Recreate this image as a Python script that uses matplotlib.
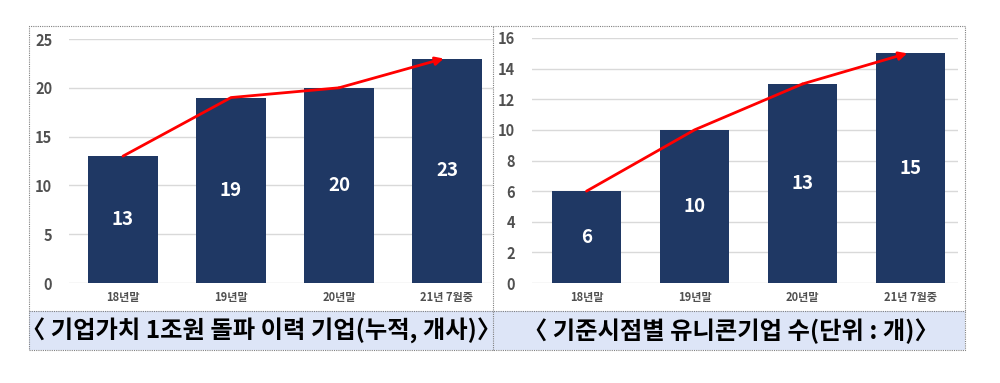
import matplotlib.pyplot as plt
from matplotlib.patches import Rectangle
from matplotlib.lines import Line2D

plt.rcParams['font.family'] = ['Noto Sans CJK KR', 'DejaVu Sans']

# data
categories = ['18년말', '19년말', '20년말', '21년 7월중']
unicorn_1t = [13, 19, 20, 23]      # 기업가치 1조원 돌파 이력 기업
unicorn_now = [6, 10, 13, 15]      # 기준시점별 유니콘기업 수
left_caption = '〈 기업가치 1조원 돌파 이력 기업(누적, 개사)〉'
right_caption = '〈 기준시점별 유니콘기업 수(단위 : 개)〉'
left_yticks = [0, 5, 10, 15, 20, 25]
right_yticks = [0, 2, 4, 6, 8, 10, 12, 14, 16]

W, H = 1000, 383
fig = plt.figure(figsize=(W / 100, H / 100), dpi=100)

bar_color = '#1f3864'
grid_color = '#d9d9d9'
tick_color = '#505050'


def px_axes(x0, x1, ytop, ybot):
    return fig.add_axes([x0 / W, (H - ybot) / H, (x1 - x0) / W, (ybot - ytop) / H])


def draw_panel(ax, values, yticks, xlim):
    x = range(len(values))
    ax.bar(x, values, width=0.64, color=bar_color, zorder=2)
    for xi, v in zip(x, values):
        ax.text(xi, v / 2, str(v), ha='center', va='center', color='white',
                fontsize=13.5, fontweight='heavy', zorder=4)
    ax.set_xlim(*xlim)
    ax.set_ylim(yticks[0], yticks[-1])
    ax.set_yticks(yticks)
    ax.set_xticks(list(x))
    ax.set_xticklabels(categories)
    ax.grid(axis='y', color=grid_color, linewidth=1, zorder=0)
    for s in ax.spines.values():
        s.set_visible(False)
    ax.tick_params(axis='y', length=0, pad=12, labelsize=10.5, labelcolor=tick_color)
    ax.tick_params(axis='x', length=0, pad=6, labelsize=8, labelcolor=tick_color)
    for lbl in ax.get_yticklabels() + ax.get_xticklabels():
        lbl.set_fontweight('heavy')
    # red trend arrow
    xs = list(x)
    ax.plot(xs[:-1], values[:-1], color='#ff0000', linewidth=2, zorder=3,
            solid_capstyle='round')
    ax.annotate('', xy=(xs[-1] - 0.03, values[-1]), xytext=(xs[-2], values[-2]),
                arrowprops=dict(arrowstyle='-|>', color='#ff0000', lw=2,
                                mutation_scale=12, shrinkA=0, shrinkB=0),
                zorder=3)


ax1 = px_axes(69, 493, 39, 283)
draw_panel(ax1, unicorn_1t, left_yticks, (-0.5, 3.426))

ax2 = px_axes(532, 958, 38, 283)
draw_panel(ax2, unicorn_now, right_yticks, (-0.505, 3.44))

# caption band and dotted frame
fig.patches.append(Rectangle((29 / W, (H - 350) / H), (965 - 29) / W, (350 - 311) / H,
                             transform=fig.transFigure, facecolor='#dde5f7',
                             edgecolor='none', zorder=0))
fig.patches.append(Rectangle((29 / W, (H - 350) / H), (965 - 29) / W, (350 - 26) / H,
                             transform=fig.transFigure, facecolor='none',
                             edgecolor='#808080', linestyle=(0, (1, 1)), linewidth=0.8))
fig.lines.append(Line2D([493 / W, 493 / W], [(H - 350) / H, (H - 26) / H],
                        transform=fig.transFigure, color='#808080',
                        linestyle=(0, (1, 1)), linewidth=0.8))
fig.lines.append(Line2D([29 / W, 965 / W], [(H - 311) / H, (H - 311) / H],
                        transform=fig.transFigure, color='#808080',
                        linestyle=(0, (1, 1)), linewidth=0.8))

fig.text(261 / W, (H - 331) / H, left_caption, ha='center', va='center',
         fontsize=17.5, fontweight='bold', color='#000000')
fig.text(731 / W, (H - 331) / H, right_caption, ha='center', va='center',
         fontsize=17.5, fontweight='bold', color='#000000')

fig.savefig('out.png', dpi=100)
